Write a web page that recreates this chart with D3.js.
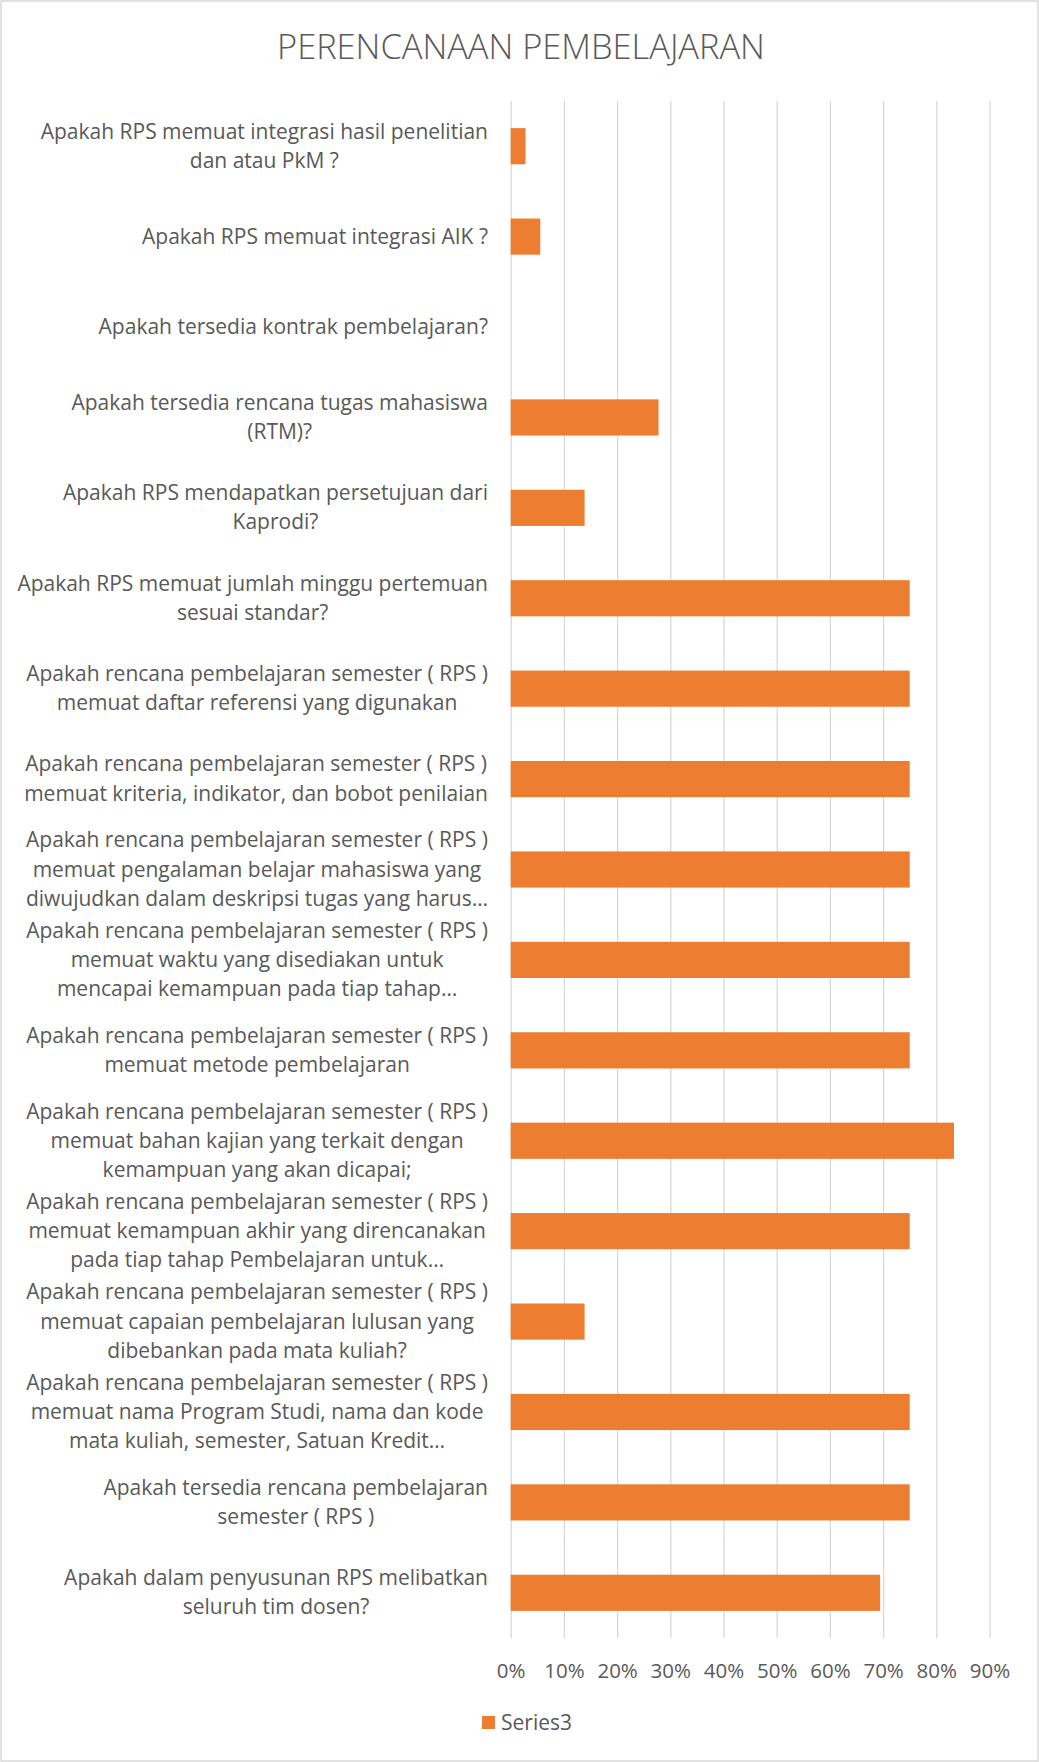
<!DOCTYPE html>
<html>
<head>
<meta charset="utf-8">
<script src="https://cdn.jsdelivr.net/npm/d3@7"></script>
<style>
body{margin:0;background:#fff;}
text{font-family:"Open Sans",sans-serif;fill:#595959;}
.title{font-size:34.4px;font-weight:300;}
.labels{font-size:21px;}
.ticks text{font-size:20.5px;}
.legend_text{font-size:21px;}
</style>
</head>
<body>
<div id="plot1"></div>
<script>
// categories top to bottom, already wrapped like the original
const categories = [
    ["Apakah RPS memuat integrasi hasil penelitian", "dan atau PkM ?"],
    ["Apakah RPS memuat integrasi AIK ?"],
    ["Apakah tersedia kontrak pembelajaran?"],
    ["Apakah tersedia rencana tugas mahasiswa", "(RTM)?"],
    ["Apakah RPS mendapatkan persetujuan dari", "Kaprodi?"],
    ["Apakah RPS memuat jumlah minggu pertemuan", "sesuai standar?"],
    ["Apakah rencana pembelajaran semester ( RPS )", "memuat daftar referensi yang digunakan"],
    ["Apakah rencana pembelajaran semester ( RPS )", "memuat kriteria, indikator, dan bobot penilaian"],
    ["Apakah rencana pembelajaran semester ( RPS )", "memuat pengalaman belajar mahasiswa yang", "diwujudkan dalam deskripsi tugas yang harus…"],
    ["Apakah rencana pembelajaran semester ( RPS )", "memuat waktu yang disediakan untuk", "mencapai kemampuan pada tiap tahap…"],
    ["Apakah rencana pembelajaran semester ( RPS )", "memuat metode pembelajaran"],
    ["Apakah rencana pembelajaran semester ( RPS )", "memuat bahan kajian yang terkait dengan", "kemampuan yang akan dicapai;"],
    ["Apakah rencana pembelajaran semester ( RPS )", "memuat kemampuan akhir yang direncanakan", "pada tiap tahap Pembelajaran untuk…"],
    ["Apakah rencana pembelajaran semester ( RPS )", "memuat capaian pembelajaran lulusan yang", "dibebankan pada mata kuliah?"],
    ["Apakah rencana pembelajaran semester ( RPS )", "memuat nama Program Studi, nama dan kode", "mata kuliah, semester, Satuan Kredit…"],
    ["Apakah tersedia rencana pembelajaran", "semester ( RPS )"],
    ["Apakah dalam penyusunan RPS melibatkan", "seluruh tim dosen?"]
];
const values = [0.0278, 0.0556, 0, 0.2778, 0.1389, 0.75, 0.75, 0.75, 0.75, 0.75, 0.75, 0.8333, 0.75, 0.1389, 0.75, 0.75, 0.6944];
const tickValues = [0, 0.1, 0.2, 0.3, 0.4, 0.5, 0.6, 0.7, 0.8, 0.9];
const seriesName = "Series3";
const chartTitle = "PERENCANAAN PEMBELAJARAN";

let plt1 = function(){
    const width = 1039;
    const height = 1762;
    const margin = {top: 101, right: 49.5, bottom: 124, left: 510.7};
    const labelRight = 488;
    const lineH = 29.2;

    var svg = d3.select("#plot1").append("svg").attr("width", width).attr("height", height);

    // chart area border
    svg.append("rect").attr("x", 1).attr("y", 1).attr("width", width-2).attr("height", height-2)
        .attr("fill", "#fff").attr("stroke", "#d9d9d9").attr("stroke-width", 1.5);

    var xScale = d3.scaleLinear().domain([0, 0.9]).range([margin.left, width-margin.right]);
    var yScale = d3.scaleBand().domain(d3.range(categories.length))
        .range([margin.top, height-margin.bottom]).paddingInner(0.6).paddingOuter(0.3);

    // gridlines + tick labels
    var xAxis = d3.axisBottom(xScale).tickValues(tickValues).tickFormat(d3.format(".0%"))
        .tickSize(-(height-margin.bottom-margin.top)).tickPadding(25);
    var gx = svg.append("g").attr("class", "ticks")
        .attr("transform", "translate(0,"+(height-margin.bottom)+")").call(xAxis);
    gx.select(".domain").remove();
    gx.selectAll("line").attr("stroke", "#d9d9d9").attr("stroke-width", 1.3);
    gx.selectAll("text").attr("fill", "#595959").style("font-family", "'Open Sans',sans-serif");

    // bars
    svg.append("g").selectAll("rect").data(values).enter().append("rect")
        .attr("x", xScale(0))
        .attr("y", (d,i)=>yScale(i))
        .attr("width", d=>xScale(d)-xScale(0))
        .attr("height", yScale.bandwidth())
        .attr("fill", "#ED7D31");

    // category labels, lines centred, block right aligned
    var lab = svg.append("g").selectAll("text").data(categories).enter().append("text")
        .attr("class", "labels").attr("text-anchor", "middle");
    lab.each(function(lines, i){
        var t = d3.select(this);
        var cy = yScale(i) + yScale.bandwidth()/2;
        var y0 = cy - (lines.length-1)*lineH/2 + 7;
        lines.forEach((s, k)=>{
            t.append("tspan").attr("y", y0 + k*lineH).text(s);
        });
        var maxW = 0;
        t.selectAll("tspan").each(function(){ maxW = Math.max(maxW, this.getComputedTextLength()); });
        t.selectAll("tspan").attr("x", labelRight - maxW/2);
    });

    // title
    svg.append("text").attr("class", "title").attr("x", 521).attr("y", 59)
        .attr("text-anchor", "middle").text(chartTitle);

    // legend
    svg.append("rect").attr("x", 482).attr("y", 1716).attr("width", 13).attr("height", 13).attr("fill", "#ED7D31");
    svg.append("text").attr("class", "legend_text").attr("x", 501).attr("y", 1730).text(seriesName);
}

plt1();
</script>
</body>
</html>
